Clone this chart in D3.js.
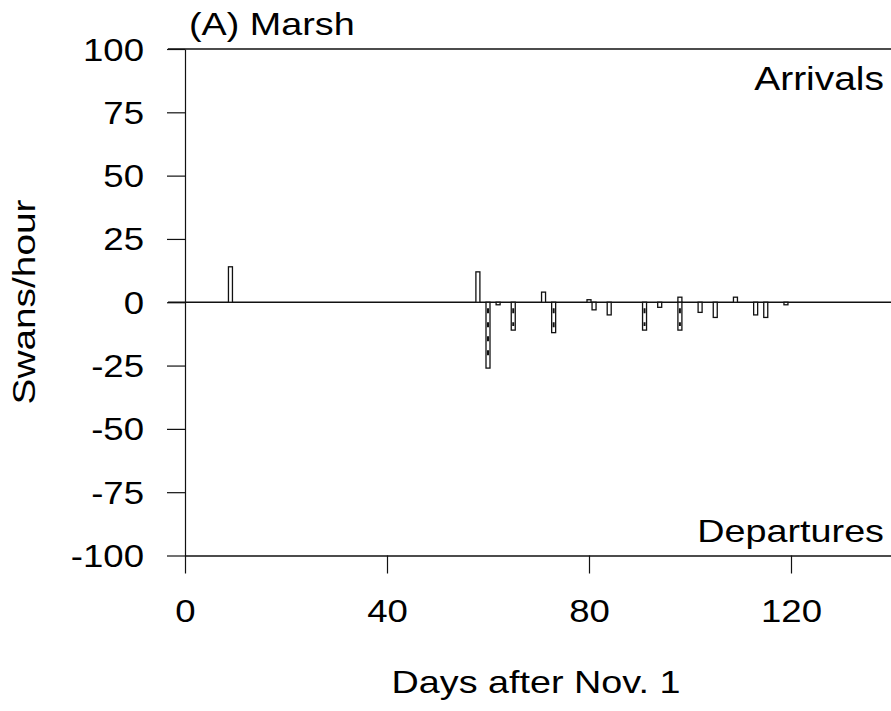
<!DOCTYPE html>
<html>
<head>
<meta charset="utf-8">
<script src="https://cdn.jsdelivr.net/npm/d3@7"></script>
<style>
  html, body { margin: 0; padding: 0; background: #fff; }
  svg text { font-family: "Liberation Sans", Arial, Helvetica, sans-serif; fill: #000; }
</style>
</head>
<body>
<div id="chart"></div>
<script>
// swans/hour, day = days after Nov. 1
const arrivalDays   = [9, 58, 71, 80, 98, 109];
const arrivalRates  = [14, 12, 4, 1, 2, 2];
const departureDays  = [60, 62, 65, 73, 81, 84, 91, 94, 98, 102, 105, 113, 115, 119];
const departureRates = [-26, -1, -11, -12, -3, -5, -11, -2, -11, -4, -6, -5, -6, -1];
const yTicks = [-100, -75, -50, -25, 0, 25, 50, 75, 100];
const xTicks = [0, 40, 80, 120];

const W = 891, H = 711;
const SX = 1.18; // the scan's lettering is wider than Arial

const svg = d3.select('#chart').append('svg')
    .attr('width', W)
    .attr('height', H);

const x = d3.scaleLinear().domain([0, 140]).range([185, 892]);
const y = d3.scaleLinear().domain([-100, 100]).range([555.5, 49]);

const ink = '#111';

// top frame line and zero line
svg.append('line')
    .attr('x1', 168).attr('x2', W)
    .attr('y1', y(100)).attr('y2', y(100))
    .attr('stroke', ink).attr('stroke-width', 1.4);
svg.append('line')
    .attr('x1', 168).attr('x2', W)
    .attr('y1', y(0)).attr('y2', y(0))
    .attr('stroke', ink).attr('stroke-width', 1.6);

// y axis (plain hyphen for minus, like the scan)
const gy = svg.append('g')
    .attr('transform', `translate(${x(0)},0)`)
    .call(d3.axisLeft(y).tickValues(yTicks).tickSize(18).tickSizeOuter(0).tickFormat(d => String(d)));
gy.select('.domain').attr('stroke', ink).attr('stroke-width', 1.2);
gy.selectAll('.tick line').attr('stroke', ink).attr('stroke-width', 1.2);
gy.selectAll('.tick text')
    .attr('x', 0).attr('dy', null)
    .attr('transform', 'translate(-41,11) scale(' + SX + ',1)')
    .style('font-size', '31px')
    .attr('fill', '#000');

// x axis at -100
const gx = svg.append('g')
    .attr('transform', `translate(0,${y(-100)})`)
    .call(d3.axisBottom(x).tickValues(xTicks).tickSize(18).tickSizeOuter(0).tickFormat(d => String(d)));
gx.select('.domain').attr('stroke', ink).attr('stroke-width', 1.4);
gx.selectAll('.tick line').attr('stroke', ink).attr('stroke-width', 1.2);
gx.selectAll('.tick text')
    .attr('y', 0).attr('dy', null)
    .attr('transform', 'translate(0,66) scale(' + SX + ',1)')
    .style('font-size', '31px')
    .attr('fill', '#000');

// bars
const arrivals = arrivalDays.map((d, i) => ({ day: d, v: arrivalRates[i] }));
const departures = departureDays.map((d, i) => ({ day: d, v: departureRates[i] }));
const bars = arrivals.concat(departures);
const bw = 4;

const gb = svg.append('g');
gb.selectAll('rect')
    .data(bars)
    .enter()
    .append('rect')
    .attr('x', d => x(d.day) - bw / 2)
    .attr('y', d => Math.min(y(d.v), y(0)))
    .attr('width', bw)
    .attr('height', d => Math.abs(y(d.v) - y(0)))
    .attr('fill', '#fff')
    .attr('stroke', ink)
    .attr('stroke-width', 1.3);

// the dark hatching inside the longer departure bars
gb.selectAll('line.hatch')
    .data(departures.filter(d => d.v <= -8))
    .enter()
    .append('line')
    .attr('class', 'hatch')
    .attr('x1', d => x(d.day)).attr('x2', d => x(d.day))
    .attr('y1', y(0) + 6).attr('y2', d => y(d.v) - 4)
    .attr('stroke', ink)
    .attr('stroke-width', 2)
    .attr('stroke-dasharray', '5,9');

// texts
function label(txt, tx, ty, size, anchor) {
    svg.append('text')
        .attr('transform', `translate(${tx},${ty}) scale(${SX},1)`)
        .attr('text-anchor', anchor)
        .style('font-size', size + 'px')
        .text(txt);
}
label('(A) Marsh', 189, 35, 32, 'start');
label('Arrivals', 884, 90, 33, 'end');
label('Departures', 884, 542, 32, 'end');
label('Days after Nov. 1', 536, 693, 32, 'middle');

svg.append('text')
    .attr('transform', 'translate(35,302) rotate(-90)')
    .attr('text-anchor', 'middle')
    .attr('textLength', 205)
    .attr('lengthAdjust', 'spacingAndGlyphs')
    .style('font-size', '31px')
    .text('Swans/hour');
</script>
</body>
</html>
